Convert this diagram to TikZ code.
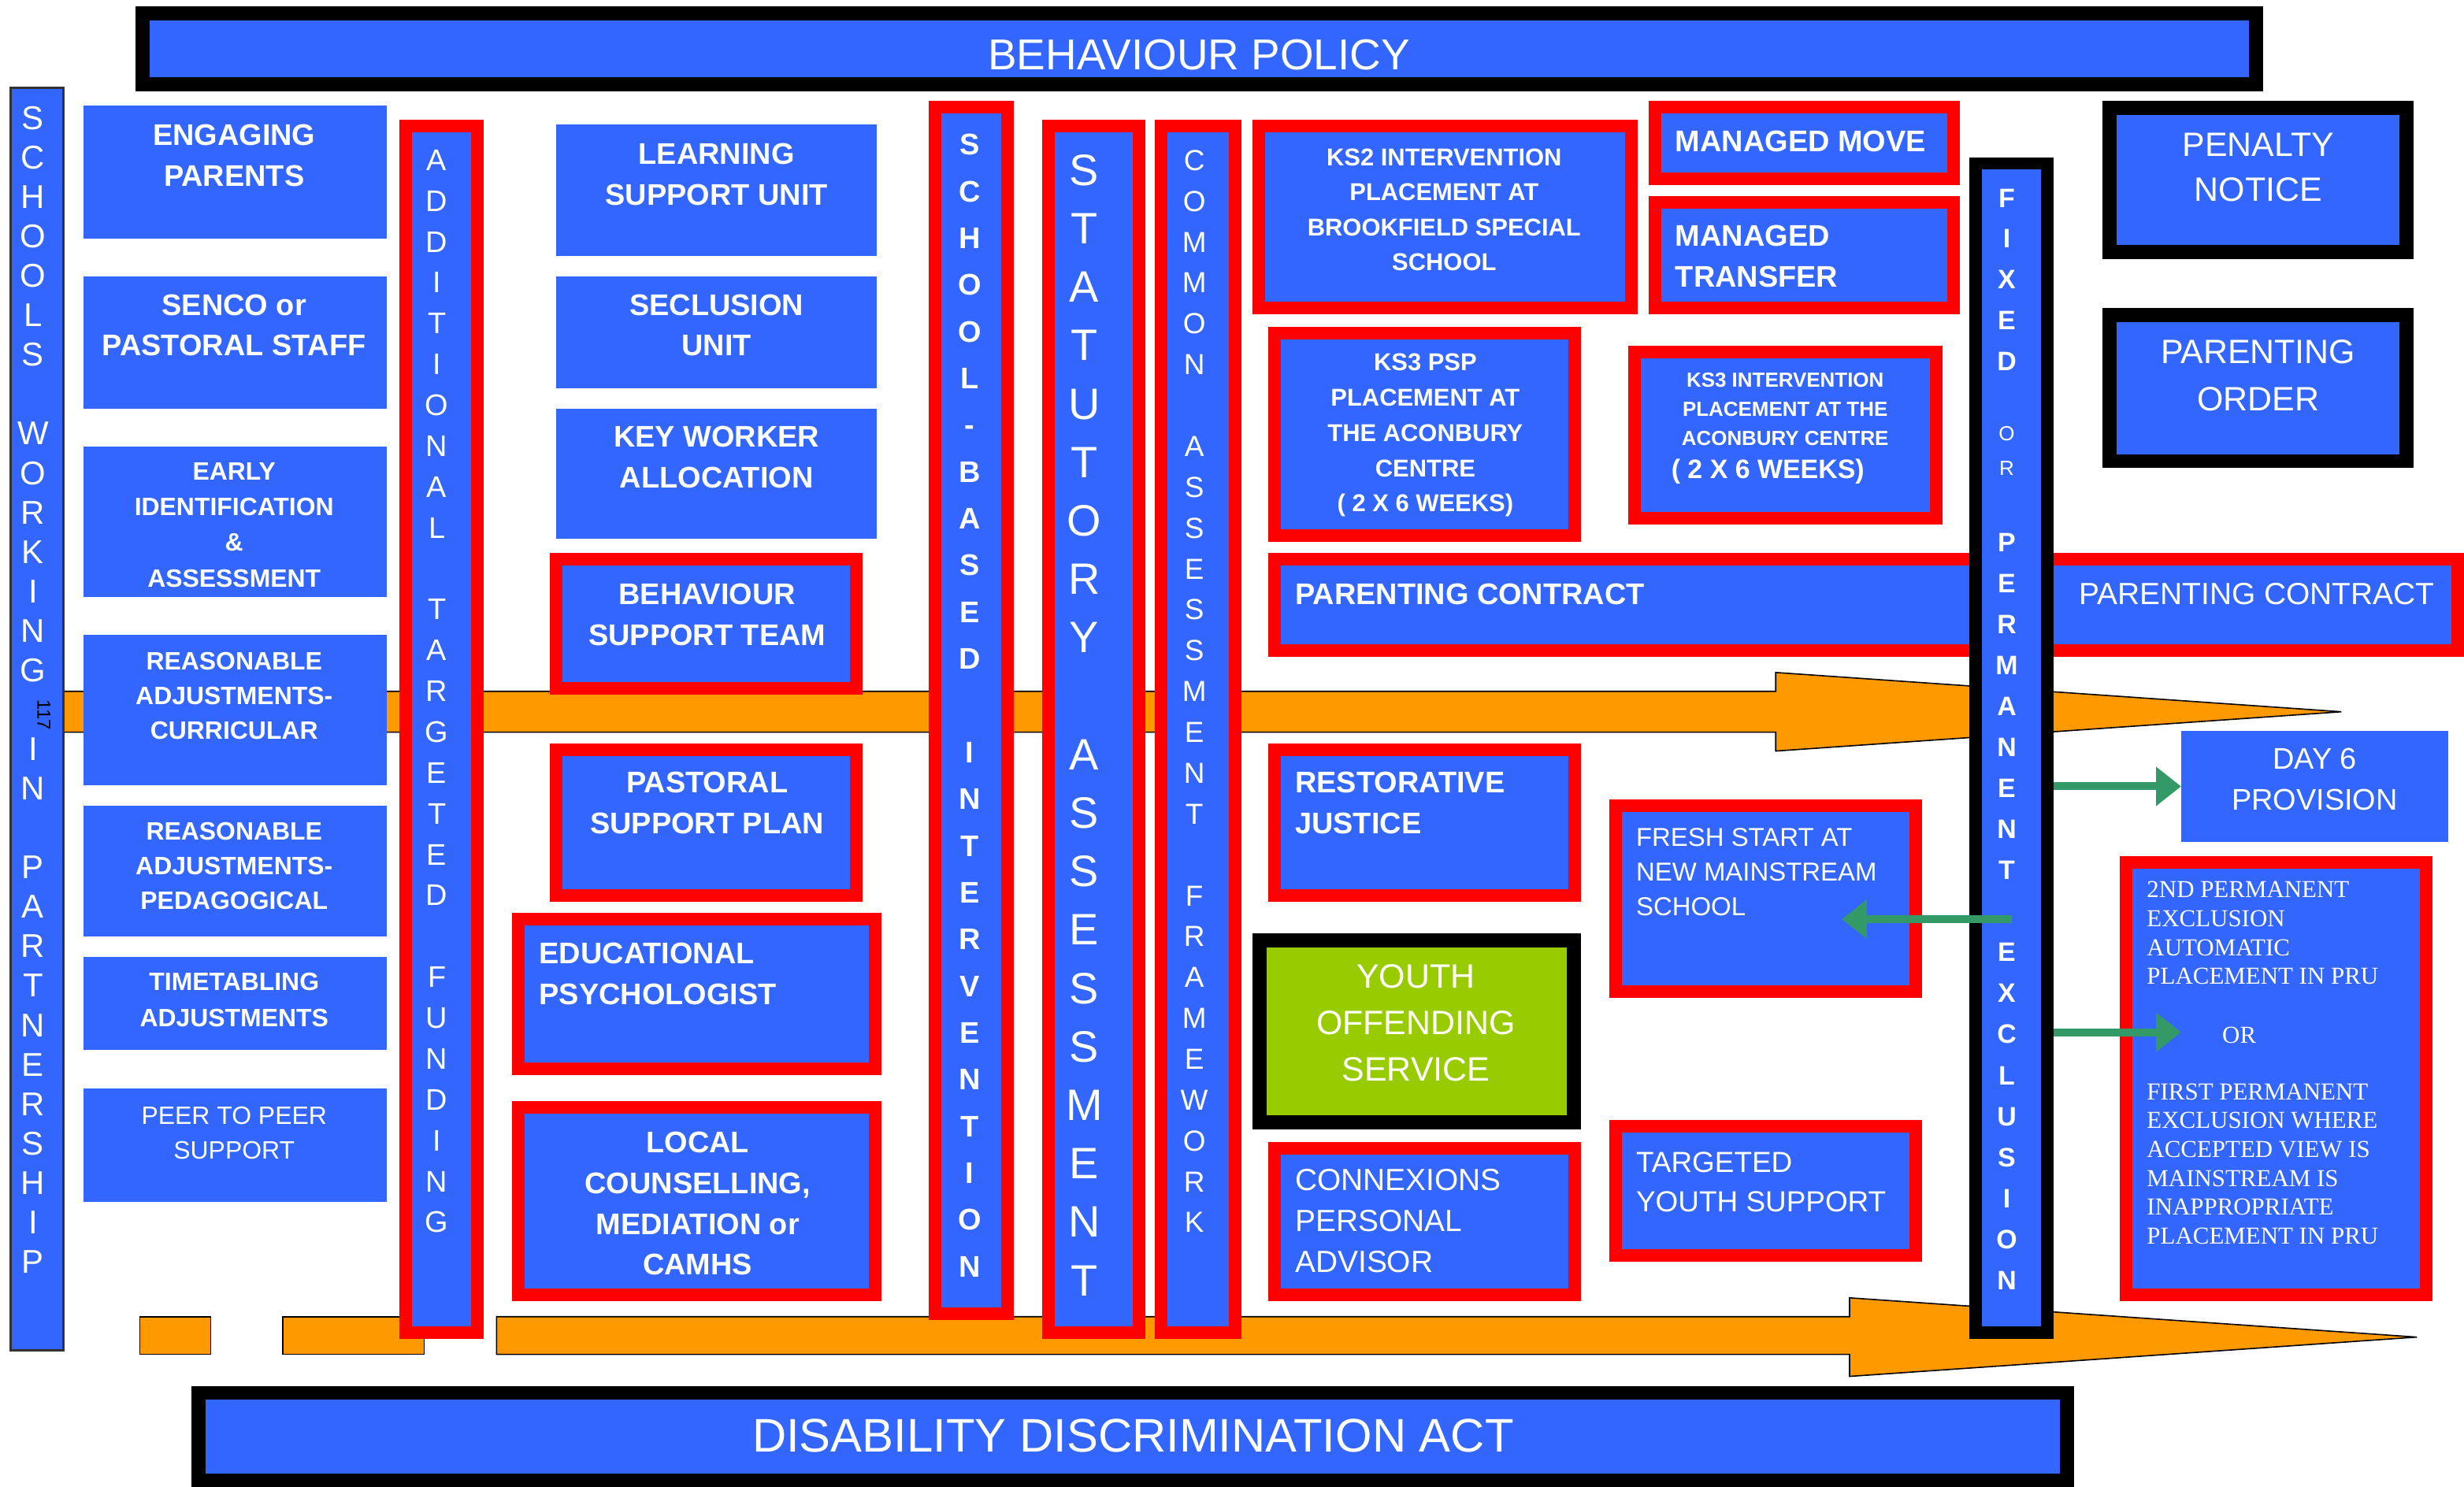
\documentclass[tikz,border=0pt]{standalone}
\usepackage{fontspec}
\setmainfont{Liberation Sans}
\newfontfamily\serifx{Liberation Serif}
\usetikzlibrary{arrows.meta}
\definecolor{myblue}{HTML}{3366FF}
\definecolor{myred}{HTML}{FF0000}
\definecolor{myorange}{HTML}{FF9900}
\definecolor{mygreen}{HTML}{99CC00}
\definecolor{arrowgreen}{HTML}{339966}
\newcommand\fntb[2]{\fontsize{#1}{#2}\selectfont\bfseries}
\newcommand\fntr[2]{\fontsize{#1}{#2}\selectfont}
\newcommand\bx[7]{%
 \pgfmathsetmacro\bxw{#5-#3-#7}%
 \pgfmathsetmacro\bxh{#6-#4-#7}%
 \node[#2, line width=#7pt, minimum width=\bxw pt, minimum height=\bxh pt] (#1) at ({(#3+#5)/2},{(#4+#6)/2}) {};}
\tikzset{
 bluebox/.style={fill=myblue, draw=none, inner sep=0},
 redbox/.style={fill=myblue, draw=myred, inner sep=0},
 blackbox/.style={fill=myblue, draw=black, inner sep=0},
 greenbox/.style={fill=mygreen, draw=black, inner sep=0},
 thinbox/.style={fill=myblue, draw=black!80, inner sep=0},
 txt/.style={text=white, inner sep=0, align=center},
 ltxt/.style={text=white, inner sep=0, align=left, anchor=west},
 oarrow/.style={fill=myorange, draw=black, line width=0.8pt},
 garrow/.style={draw=arrowgreen, line width=5pt, -{Triangle[length=16pt,width=24pt]}},
}
\begin{document}
\begin{tikzpicture}[x=1pt,y=-1pt]
\useasboundingbox (0,0) rectangle (1568,946);
% orange arrows (background)
\draw[oarrow] (20,440) -- (1130,440) -- (1130,428) -- (1490,453) -- (1130,478) -- (1130,466) -- (20,466) -- cycle;
\draw[oarrow] (89,838) rectangle (134,862);
\draw[oarrow] (180,838) rectangle (270,862);
\draw[oarrow] (316,838) -- (1177,838) -- (1177,826) -- (1538,851) -- (1177,876) -- (1177,862) -- (316,862) -- cycle;

% top and bottom bars
\bx{policy}{blackbox}{86}{4}{1440}{58}{9}
\node[txt, font=\fntr{27.5}{30}] (t-policy) at (763,35) {BEHAVIOUR POLICY};
\bx{dda}{blackbox}{122}{882}{1320}{947}{9}
\node[txt, font=\fntr{30}{34}] (t-dda) at (721,914) {DISABILITY DISCRIMINATION ACT};

% schools working in partnership
\bx{schools}{thinbox}{6}{55}{41}{860}{1.5}
\node[txt, font=\fntr{21}{25.1}] (t-schools) at (21,439) {S\\C\\H\\O\\O\\L\\S\\~\\W\\O\\R\\K\\I\\N\\G\\~\\I\\N\\~\\P\\A\\R\\T\\N\\E\\R\\S\\H\\I\\P};
\node[inner sep=0, rotate=-90, font=\fntr{12}{14}] (t-117) at (28,455) {117};

% left column
\bx{eng}{bluebox}{53}{67}{246}{152}{0}
\node[txt, font=\fntb{19}{26}] (t-eng) at (149,99) {ENGAGING\\PARENTS};
\bx{senco}{bluebox}{53}{176}{246}{260}{0}
\node[txt, font=\fntb{19}{26}] (t-senco) at (149,207) {SENCO or\\PASTORAL STAFF};
\bx{early}{bluebox}{53}{284}{246}{380}{0}
\node[txt, font=\fntb{16}{22.7}] (t-early) at (149,334) {EARLY\\IDENTIFICATION\\\&\\ASSESSMENT};
\bx{racur}{bluebox}{53}{404}{246}{500}{0}
\node[txt, font=\fntb{16}{22}] (t-racur) at (149,443) {REASONABLE\\ADJUSTMENTS-\\CURRICULAR};
\bx{raped}{bluebox}{53}{513}{246}{596}{0}
\node[txt, font=\fntb{16}{22}] (t-raped) at (149,551) {REASONABLE\\ADJUSTMENTS-\\PEDAGOGICAL};
\bx{time}{bluebox}{53}{609}{246}{668}{0}
\node[txt, font=\fntb{16}{23}] (t-time) at (149,636.5) {TIMETABLING\\ADJUSTMENTS};
\bx{peer}{bluebox}{53}{693}{246}{765}{0}
\node[txt, font=\fntr{16}{22}] (t-peer) at (149,721) {PEER TO PEER\\SUPPORT};

% additional targeted funding
\bx{atf}{redbox}{254}{76}{308}{852}{8}
\node[txt, font=\fntr{19}{26}] (t-atf) at (278,440) {A\\D\\D\\I\\T\\I\\O\\N\\A\\L\\~\\T\\A\\R\\G\\E\\T\\E\\D\\~\\F\\U\\N\\D\\I\\N\\G};

% middle column
\bx{lsu}{bluebox}{354}{79}{558}{163}{0}
\node[txt, font=\fntb{19}{26}] (t-lsu) at (456,111) {LEARNING\\SUPPORT UNIT};
\bx{seclusion}{bluebox}{354}{176}{558}{247}{0}
\node[txt, font=\fntb{19}{26}] (t-seclusion) at (456,207) {SECLUSION\\UNIT};
\bx{keyw}{bluebox}{354}{260}{558}{343}{0}
\node[txt, font=\fntb{19}{26}] (t-keyw) at (456,291) {KEY WORKER\\ALLOCATION};
\bx{bst}{redbox}{350}{352}{549}{442}{8}
\node[txt, font=\fntb{19}{26}] (t-bst) at (450,391) {BEHAVIOUR\\SUPPORT TEAM};
\bx{psp}{redbox}{350}{473}{549}{574}{8}
\node[txt, font=\fntb{19}{26}] (t-psp) at (450,511) {PASTORAL\\SUPPORT PLAN};
\bx{edpsy}{redbox}{326}{581}{561}{684}{8}
\node[ltxt, font=\fntb{19}{26}] (t-edpsy) at (343,620) {EDUCATIONAL\\PSYCHOLOGIST};
\bx{local}{redbox}{326}{701}{561}{828}{8}
\node[txt, font=\fntb{19}{26}] (t-local) at (444,766) {LOCAL\\COUNSELLING,\\MEDIATION or\\CAMHS};

% vertical bands
\bx{sbi}{redbox}{591}{64}{645}{840}{8}
\node[txt, font=\fntb{19}{29.75}] (t-sbi) at (617,449) {S\\C\\H\\O\\O\\L\\-\\B\\A\\S\\E\\D\\~\\I\\N\\T\\E\\R\\V\\E\\N\\T\\I\\O\\N};
\bx{stat}{redbox}{663}{76}{729}{852}{8}
\node[txt, font=\fntr{28}{37.2}] (t-stat) at (690,461.5) {S\\T\\A\\T\\U\\T\\O\\R\\Y\\~\\A\\S\\S\\E\\S\\S\\M\\E\\N\\T};
\bx{caf}{redbox}{735}{76}{790}{852}{8}
\node[txt, font=\fntr{18.5}{26}] (t-caf) at (760,440) {C\\O\\M\\M\\O\\N\\~\\A\\S\\S\\E\\S\\S\\M\\E\\N\\T\\~\\F\\R\\A\\M\\E\\W\\O\\R\\K};

% right area
\bx{ks2}{redbox}{797}{76}{1042}{200}{8}
\node[txt, font=\fntb{15.5}{22.3}] (t-ks2) at (919,133.5) {KS2 INTERVENTION\\PLACEMENT AT\\BROOKFIELD SPECIAL\\SCHOOL};
\bx{mmove}{redbox}{1049}{64}{1247}{118}{8}
\node[ltxt, font=\fntb{19}{26}] (t-mmove) at (1066,90) {MANAGED MOVE};
\bx{mtrans}{redbox}{1049}{125}{1247}{200}{8}
\node[ltxt, font=\fntb{19}{26}] (t-mtrans) at (1066,163) {MANAGED\\TRANSFER};
\bx{ks3psp}{redbox}{807}{208}{1006}{345}{8}
\node[txt, font=\fntb{15.5}{22.5}] (t-ks3psp) at (907,277) {KS3 PSP\\PLACEMENT AT\\THE ACONBURY\\CENTRE\\( 2 X 6 WEEKS)};
\bx{ks3int}{redbox}{1036}{220}{1236}{334}{8}
\node[txt, font=\fntb{13}{18.7}] (t-ks3int) at (1136,260.5) {KS3 INTERVENTION\\PLACEMENT AT THE\\ACONBURY CENTRE};
\node[txt, font=\fntb{17}{20}] (t-ks3wk) at (1125,300) {( 2 X 6 WEEKS)};
\bx{pc}{redbox}{807}{352}{1568}{418}{8}
\node[ltxt, font=\fntb{19}{26}] (t-pc1) at (824,378) {PARENTING CONTRACT};
\node[ltxt, font=\fntr{19.5}{26}] (t-pc2) at (1323,378) {PARENTING CONTRACT};
\bx{penalty}{blackbox}{1338}{64}{1536}{165}{9}
\node[txt, font=\fntr{21.5}{29}] (t-penalty) at (1437,106.5) {PENALTY\\NOTICE};
\bx{porder}{blackbox}{1338}{196}{1536}{298}{9}
\node[txt, font=\fntr{21.5}{30}] (t-porder) at (1437,239) {PARENTING\\ORDER};

\bx{rj}{redbox}{807}{473}{1006}{574}{8}
\node[ltxt, font=\fntb{19}{26}] (t-rj) at (824,511) {RESTORATIVE\\JUSTICE};
\bx{yos}{greenbox}{797}{594}{1006}{719}{9}
\node[txt, font=\fntr{21.5}{29.5}] (t-yos) at (901,651) {YOUTH\\OFFENDING\\SERVICE};
\bx{cpa}{redbox}{807}{727}{1006}{828}{8}
\node[ltxt, font=\fntr{19.5}{26}] (t-cpa) at (824,777) {CONNEXIONS\\PERSONAL\\ADVISOR};
\bx{fresh}{redbox}{1024}{509}{1223}{635}{8}
\node[ltxt, font=\fntr{16.5}{22}] (t-fresh) at (1041,555) {FRESH START AT\\NEW MAINSTREAM\\SCHOOL};
\bx{tys}{redbox}{1024}{713}{1223}{803}{8}
\node[ltxt, font=\fntr{18.5}{25}] (t-tys) at (1041,752.5) {TARGETED\\YOUTH SUPPORT};
\bx{day6}{bluebox}{1388}{465}{1558}{536}{0}
\node[txt, font=\fntr{19}{26}] (t-day6) at (1473,496) {DAY 6\\PROVISION};
\bx{pex}{redbox}{1349}{545}{1548}{828}{8}
\node[ltxt, font=\serifx\fntr{15.5}{18.4}] (t-pex) at (1366,676.5) {2ND PERMANENT\\EXCLUSION\\AUTOMATIC\\PLACEMENT IN PRU\\[19pt]\hspace*{48pt}OR\\[17.5pt]FIRST PERMANENT\\EXCLUSION WHERE\\ACCEPTED VIEW IS\\MAINSTREAM IS\\INAPPROPRIATE\\PLACEMENT IN PRU};

% fixed or permanent exclusion bar
\bx{fixed}{blackbox}{1253}{100}{1307}{852}{8}
\node[txt, font=\fntb{17}{26}] (t-fix1) at (1277,178) {F\\I\\X\\E\\D};
\node[txt, font=\fntr{13}{22}] (t-fix2) at (1277,287) {O\\R};
\node[txt, font=\fntb{17}{26.1}] (t-fix3) at (1277,580) {P\\E\\R\\M\\A\\N\\E\\N\\T\\~\\E\\X\\C\\L\\U\\S\\I\\O\\N};

% green arrows
\coordinate (freshTip) at (1172,585);
\coordinate (orTip) at (1388,657);
\draw[garrow] (fixed.east |- day6.west) -- (day6.west);
\draw[garrow] (fixed.center |- freshTip) -- (freshTip);
\draw[garrow] (fixed.east |- orTip) -- (orTip);
\end{tikzpicture}
\end{document}
